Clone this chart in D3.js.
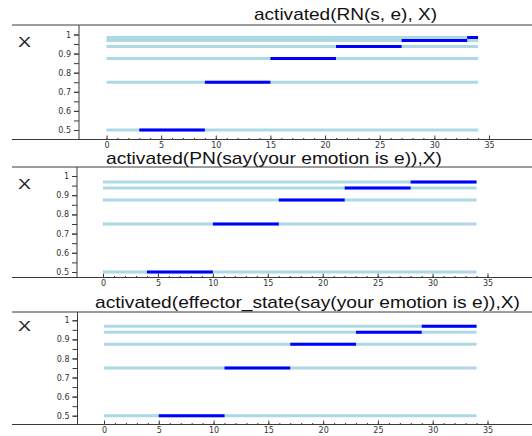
<!DOCTYPE html>
<html>
<head>
<meta charset="utf-8">
<script src="https://cdn.jsdelivr.net/npm/d3@7"></script>
<style>
    body { margin: 0; background: #fff; }
    svg { display: block; }
</style>
</head>
<body>
<svg id="chart" width="532" height="436"></svg>
<script>
// x axis ticks (time steps) and y axis ticks, shared by all three panels
let xMajorTicks = [0, 5, 10, 15, 20, 25, 30, 35];
let xMinorTicks = d3.range(0, 36);
let yMajorTicks = [0.5, 0.6, 0.7, 0.8, 0.9, 1];
let yMinorTicks = [0.5, 0.55, 0.6, 0.65, 0.7, 0.75, 0.8, 0.85, 0.9, 0.95, 1];

// panel titles
let titles = [
    "activated(RN(s, e), X)",
    "activated(PN(say(your emotion is e)),X)",
    "activated(effector_state(say(your emotion is e)),X)"
];

// every level X goes from 0 to 34 (light blue), active interval drawn dark blue
let lineStart = 0;
let lineEnd = 34;

let levels1 = [0.5, 0.75, 0.875, 0.9375, 0.96875, 0.984375];
let activeFrom1 = [3, 9, 15, 21, 27, 33];
let activeTo1 = [9, 15, 21, 27, 33, 34];

let levels2 = [0.5, 0.75, 0.875, 0.9375, 0.96875];
let activeFrom2 = [4, 10, 16, 22, 28];
let activeTo2 = [10, 16, 22, 28, 34];

let levels3 = [0.5, 0.75, 0.875, 0.9375, 0.96875];
let activeFrom3 = [5, 11, 17, 23, 29];
let activeTo3 = [11, 17, 23, 29, 34];

let seriesList = [
    { levels: levels1, from: activeFrom1, to: activeTo1 },
    { levels: levels2, from: activeFrom2, to: activeTo2 },
    { levels: levels3, from: activeFrom3, to: activeTo3 }
];

// layout of each panel (pixels)
let panels = [
    { top: 25, bottom: 139.5, axisX: 79, y1: 34.5, y05: 130, x0: 106.5, x35: 489,
      titleX: 254, titleY: 20, titleW: 183, labelY: 47 },
    { top: 167, bottom: 277.5, axisX: 77, y1: 176, y05: 272, x0: 103, x35: 487.5,
      titleX: 106, titleY: 164, titleW: 336, labelY: 188.5 },
    { top: 312, bottom: 424.5, axisX: 77.5, y1: 320.3, y05: 415.7, x0: 104, x35: 487.5,
      titleX: 95, titleY: 308, titleW: 425, labelY: 331 }
];

let lightColor = "#add8e6";
let darkColor = "#0000ff";
let frameColor = "#3a3a3a";

let svg = d3.select("#chart");

panels.forEach(function (p, i) {
    let series = seriesList[i];

    let x = d3.scaleLinear().domain([0, 35]).range([p.x0, p.x35]);
    let y = d3.scaleLinear().domain([0.5, 1]).range([p.y05, p.y1]);

    let g = svg.append("g");

    // frame lines: top rule, bottom axis rule, left axis
    g.append("line")
        .attr("x1", 12).attr("x2", 532)
        .attr("y1", p.top).attr("y2", p.top)
        .attr("stroke", frameColor).attr("stroke-width", 1);
    g.append("line")
        .attr("x1", 12).attr("x2", 532)
        .attr("y1", p.bottom).attr("y2", p.bottom)
        .attr("stroke", frameColor).attr("stroke-width", 1);
    g.append("line")
        .attr("x1", p.axisX).attr("x2", p.axisX)
        .attr("y1", p.top).attr("y2", p.bottom)
        .attr("stroke", frameColor).attr("stroke-width", 1);

    // title
    g.append("text")
        .attr("x", p.titleX).attr("y", p.titleY)
        .attr("textLength", p.titleW)
        .attr("lengthAdjust", "spacingAndGlyphs")
        .style("font-family", "Liberation Sans, Arial, sans-serif")
        .style("font-size", "17px")
        .style("fill", "#111")
        .text(titles[i]);

    // big X label on the left
    g.append("text")
        .attr("x", 18).attr("y", p.labelY)
        .attr("textLength", 13)
        .attr("lengthAdjust", "spacingAndGlyphs")
        .style("font-family", "Liberation Sans, Arial, sans-serif")
        .style("font-size", "14px")
        .style("fill", "#222")
        .text("X");

    // y axis (ticks pointing left)
    let yMinor = g.append("g")
        .attr("transform", `translate(${p.axisX},0)`)
        .call(d3.axisLeft(y).tickValues(yMinorTicks).tickSize(5).tickFormat(""));
    yMinor.select(".domain").remove();

    let yAxis = g.append("g")
        .attr("transform", `translate(${p.axisX},0)`)
        .call(d3.axisLeft(y).tickValues(yMajorTicks).tickSize(5).tickPadding(3).tickFormat(d3.format("~g")));
    yAxis.select(".domain").remove();

    // x axis (ticks pointing up, labels below)
    let xMinor = g.append("g")
        .attr("transform", `translate(0,${p.bottom})`)
        .call(d3.axisBottom(x).tickValues(xMinorTicks).tickSize(-1.5).tickFormat(""));
    xMinor.select(".domain").remove();

    let xAxis = g.append("g")
        .attr("transform", `translate(0,${p.bottom})`)
        .call(d3.axisBottom(x).tickValues(xMajorTicks).tickSize(-4).tickPadding(3));
    xAxis.select(".domain").remove();

    g.selectAll(".tick line").attr("stroke", frameColor);
    g.selectAll(".tick text")
        .style("font-family", "DejaVu Sans, sans-serif")
        .style("font-size", "8px")
        .style("fill", "#333");

    // light blue full lines
    g.selectAll(".bg-line")
        .data(series.levels)
        .enter().append("line")
        .attr("class", "bg-line")
        .attr("x1", x(lineStart)).attr("x2", x(lineEnd))
        .attr("y1", d => y(d)).attr("y2", d => y(d))
        .attr("stroke", lightColor)
        .attr("stroke-width", 3);

    // dark blue active intervals
    g.selectAll(".active-line")
        .data(series.levels)
        .enter().append("line")
        .attr("class", "active-line")
        .attr("x1", (d, k) => x(series.from[k]))
        .attr("x2", (d, k) => x(series.to[k]))
        .attr("y1", d => y(d)).attr("y2", d => y(d))
        .attr("stroke", darkColor)
        .attr("stroke-width", 3);
});
</script>
</body>
</html>
